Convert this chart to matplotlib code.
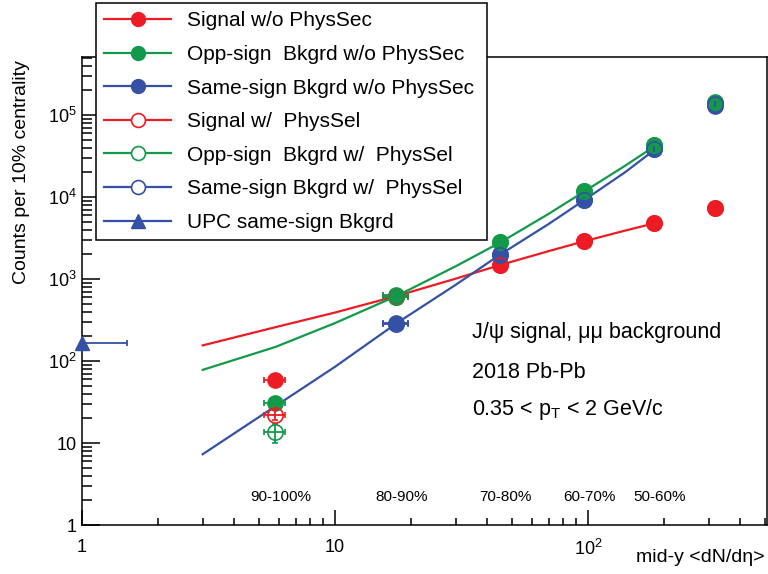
import numpy as np
import matplotlib
matplotlib.use('Agg')
import matplotlib.pyplot as plt
from matplotlib.lines import Line2D
from matplotlib.ticker import LogLocator, FixedLocator, FixedFormatter, NullFormatter

plt.rcParams['font.family'] = ['Liberation Sans', 'DejaVu Sans']
plt.rcParams['mathtext.fontset'] = 'custom'
plt.rcParams['mathtext.rm'] = 'Liberation Sans'
plt.rcParams['mathtext.it'] = 'Liberation Sans:italic'
plt.rcParams['mathtext.sf'] = 'Liberation Sans'

# centrality classes and mid-y dN/deta
centrality = ['90-100%', '80-90%', '70-80%', '60-70%', '50-60%', '40-50%']
dndeta = [5.8, 17.5, 44.9, 96.3, 183.0, 318.0]
dndeta_err = [0.55, 2.0, 0.0, 0.0, 0.0, 0.0]

# w/o physics selection (filled)
sig_wo = [58, 620, 1480, 2900, 4800, 7300]
sig_wo_err = [4, 0, 0, 0, 0, 0]
opp_wo = [31, 635, 2820, 11800, 43000, 144000]
opp_wo_err = [5, 0, 0, 0, 0, 0]
same_wo = [np.nan, 290, 2000, 9200, 38500, 129000]

# w/ physics selection (open)
sig_w = [22, 610, 1470, 2880, 4780, 7300]
sig_w_err = [3, 0, 0, 0, 0, 0]
opp_w = [13.6, 600, 2800, 11700, 42500, 142000]
opp_w_err = [3.5, 0, 0, 0, 0, 0]
same_w = [np.nan, 285, 1980, 9100, 38000, 137000]

# UPC same-sign background
upc_x = [1.0]
upc_xerr = [0.5]
upc_y = [166]

# fitted curves
curve_x = [3.0, 5.8, 10.0, 17.5, 30.0, 44.9, 70.0, 96.3, 140.0, 183.0]
curve_sig = [155, 258, 390, 620, 1010, 1480, 2190, 2880, 3890, 4780]
curve_opp = [78, 148, 290, 620, 1430, 2780, 6250, 11600, 24000, 41500]
curve_same = [7.3, 28, 85, 288, 850, 1980, 4700, 9100, 20000, 37500]

red = '#ED1C24'
green = '#12994A'
blue = '#3551A5'

fig = plt.figure(figsize=(7.68, 5.74), dpi=100)
ax = fig.add_axes([82 / 768, 1 - 525 / 574, 685 / 768, 468 / 574])
ax.set_xscale('log')
ax.set_yscale('log')

lw = 1.6
ax.plot(curve_x, curve_sig, color=red, lw=lw, zorder=2)
ax.plot(curve_x, curve_opp, color=green, lw=lw, zorder=2)
ax.plot(curve_x, curve_same, color=blue, lw=lw, zorder=2)

ms = 11
eb = dict(fmt='o', ms=ms, elinewidth=1.3, capsize=2, capthick=1.3, zorder=3)
ax.errorbar(dndeta, sig_wo, xerr=dndeta_err, yerr=sig_wo_err, color=red, **eb)
ax.errorbar(dndeta, same_wo, xerr=dndeta_err, color=blue, **eb)
ax.errorbar(dndeta, opp_wo, xerr=dndeta_err, yerr=opp_wo_err, color=green, **eb)
eb_open = dict(eb, mfc='none', mew=1.2, zorder=4)
ax.errorbar(dndeta, sig_w, xerr=dndeta_err, yerr=sig_w_err, color=red, **eb_open)
ax.errorbar(dndeta, opp_w, xerr=dndeta_err, yerr=opp_w_err, color=green, **eb_open)
ax.errorbar(dndeta, same_w, xerr=dndeta_err, color=blue, **eb_open)
upc = ax.errorbar(upc_x, upc_y, xerr=upc_xerr, fmt='^', ms=10, color=blue,
                  elinewidth=1.3, capsize=2, capthick=1.3, zorder=5)
upc.lines[0].set_clip_on(False)

ax.set_xlim(1, 510)
ax.set_ylim(1, 5.1e5)

# ticks, ROOT style
ax.xaxis.set_major_locator(FixedLocator([1, 10, 100]))
ax.xaxis.set_major_formatter(FixedFormatter(['1', '10', '$10^{2}$']))
ax.xaxis.set_minor_locator(LogLocator(base=10, subs=np.arange(2, 10), numticks=100))
ax.xaxis.set_minor_formatter(NullFormatter())
ax.yaxis.set_major_locator(FixedLocator([1, 10, 100, 1e3, 1e4, 1e5]))
ax.yaxis.set_major_formatter(FixedFormatter(['1', '10', '$10^{2}$', '$10^{3}$', '$10^{4}$', '$10^{5}$']))
ax.yaxis.set_minor_locator(LogLocator(base=10, subs=np.arange(2, 10), numticks=100))
ax.yaxis.set_minor_formatter(NullFormatter())
ax.tick_params(axis='x', which='major', direction='in', length=10.5, width=1.1, labelsize=13, pad=10, top=False)
ax.tick_params(axis='x', which='minor', direction='in', length=5, width=1.1, top=False)
ax.tick_params(axis='y', which='major', direction='in', length=13, width=1.1, labelsize=13, pad=4, right=False)
ax.tick_params(axis='y', which='minor', direction='in', length=7, width=1.1, right=False)
for sp in ax.spines.values():
    sp.set_linewidth(1.1)

# centrality labels
for x, lab in zip(dndeta[:5], centrality[:5]):
    ax.annotate(lab, xy=(x, 0.051), xycoords=('data', 'axes fraction'),
                xytext=(4, 0), textcoords='offset points',
                ha='center', va='baseline', fontsize=11)

fig.text(22 / 768, 1 - 60 / 574, 'Counts per 10% centrality', rotation=90,
         ha='center', va='top', fontsize=14)
fig.text(765 / 768, 1 - 558 / 574, 'mid-y <dN/d\u03b7>', ha='right', va='center', fontsize=14)

fig.text(472 / 768, 1 - 338 / 574, 'J/\u03c8 signal, \u03bc\u03bc background', fontsize=15.5, va='baseline')
fig.text(472 / 768, 1 - 378 / 574, '2018 Pb-Pb', fontsize=15.5, va='baseline')
fig.text(472 / 768, 1 - 415 / 574, '0.35 < p$_{\\mathrm{T}}$ < 2 GeV/c', fontsize=15.5, va='baseline')

handles = [
    Line2D([], [], color=red, lw=lw, marker='o', ms=10),
    Line2D([], [], color=green, lw=lw, marker='o', ms=10),
    Line2D([], [], color=blue, lw=lw, marker='o', ms=10),
    Line2D([], [], color=red, lw=lw, marker='o', ms=10, mfc='white', mew=1.2),
    Line2D([], [], color=green, lw=lw, marker='o', ms=10, mfc='white', mew=1.2),
    Line2D([], [], color=blue, lw=lw, marker='o', ms=10, mfc='white', mew=1.2),
    Line2D([], [], color=blue, lw=lw, marker='^', ms=10),
]
labels = ['Signal w/o PhysSec', 'Opp-sign  Bkgrd w/o PhysSec', 'Same-sign Bkgrd w/o PhysSec',
          'Signal w/  PhysSel', 'Opp-sign  Bkgrd w/  PhysSel', 'Same-sign Bkgrd w/  PhysSel',
          'UPC same-sign Bkgrd']
leg = fig.legend(handles, labels, loc='upper left',
                 bbox_to_anchor=(96 / 768, 1 - 3 / 574, 391 / 768, 0.0), mode='expand',
                 fontsize=15, frameon=True, fancybox=False, edgecolor='black',
                 framealpha=1, borderpad=0.4, labelspacing=0.70, handlelength=3.2,
                 handletextpad=0.75, borderaxespad=0)
leg.get_frame().set_linewidth(1.1)
leg.set_zorder(10)

fig.savefig('out.png', dpi=100)
